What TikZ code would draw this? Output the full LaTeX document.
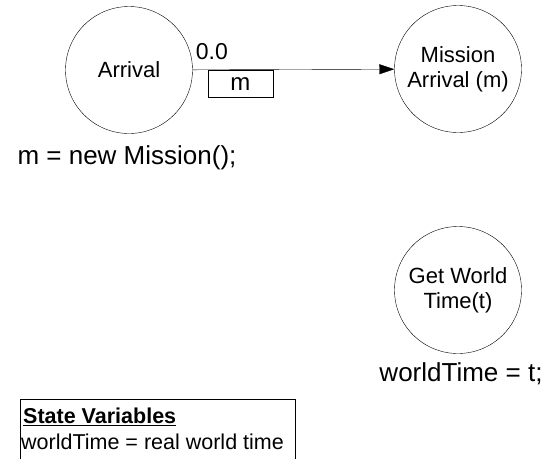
\documentclass[tikz,border=0pt]{standalone}
\usepackage{fontspec}
\setmainfont{Liberation Sans}
\usetikzlibrary{arrows.meta, positioning}

\begin{document}
\begin{tikzpicture}[
    x=1pt, y=-1pt,
    event/.style={draw, circle, minimum size=127pt, inner sep=0pt,
      align=center, font=\fontsize{22}{25}\selectfont},
    code/.style={font=\fontsize{26}{30}\selectfont, inner sep=0pt},
    edgelbl/.style={font=\fontsize{23}{27}\selectfont, inner sep=0pt}
  ]
  \useasboundingbox (0,0) rectangle (543,459);
  % events
  \node[event] (arr) at (129,70) {Arrival};
  \node[event] (mis) at (458,69) {Mission\\Arrival (m)};
  \node[event] (gwt) at (458,290) {Get World\\Time(t)};
  % scheduling edge
  \draw[-{Triangle[length=15pt,width=10pt]}] (arr) -- (mis);
  \node[edgelbl, anchor=south west] (delay) at ([xshift=3pt,yshift=10pt]arr.east) {0.0};
  \node[draw, anchor=north west, minimum width=65pt, minimum height=27pt,
    inner sep=0pt, font=\fontsize{24}{27}\selectfont] (par)
    at ([xshift=15pt]arr.east) {m};
  % state changes
  \node[code] (arrcode) at (127,158) {m = new Mission();};
  \node[code] (gwtcode) at (461,374) {worldTime = t;};
  % state variables
  \draw (20,459) |- (295,399) -- (295,459);
  \node[anchor=west, inner sep=0pt, font=\fontsize{21.5}{25}\selectfont\bfseries]
    (svtitle) at (23,417) {\underline{State Variables}};
  \node[anchor=west, inner sep=0pt, font=\fontsize{21.5}{25}\selectfont]
    (svworld) at (21,442) {worldTime = real world time};
\end{tikzpicture}
\end{document}
